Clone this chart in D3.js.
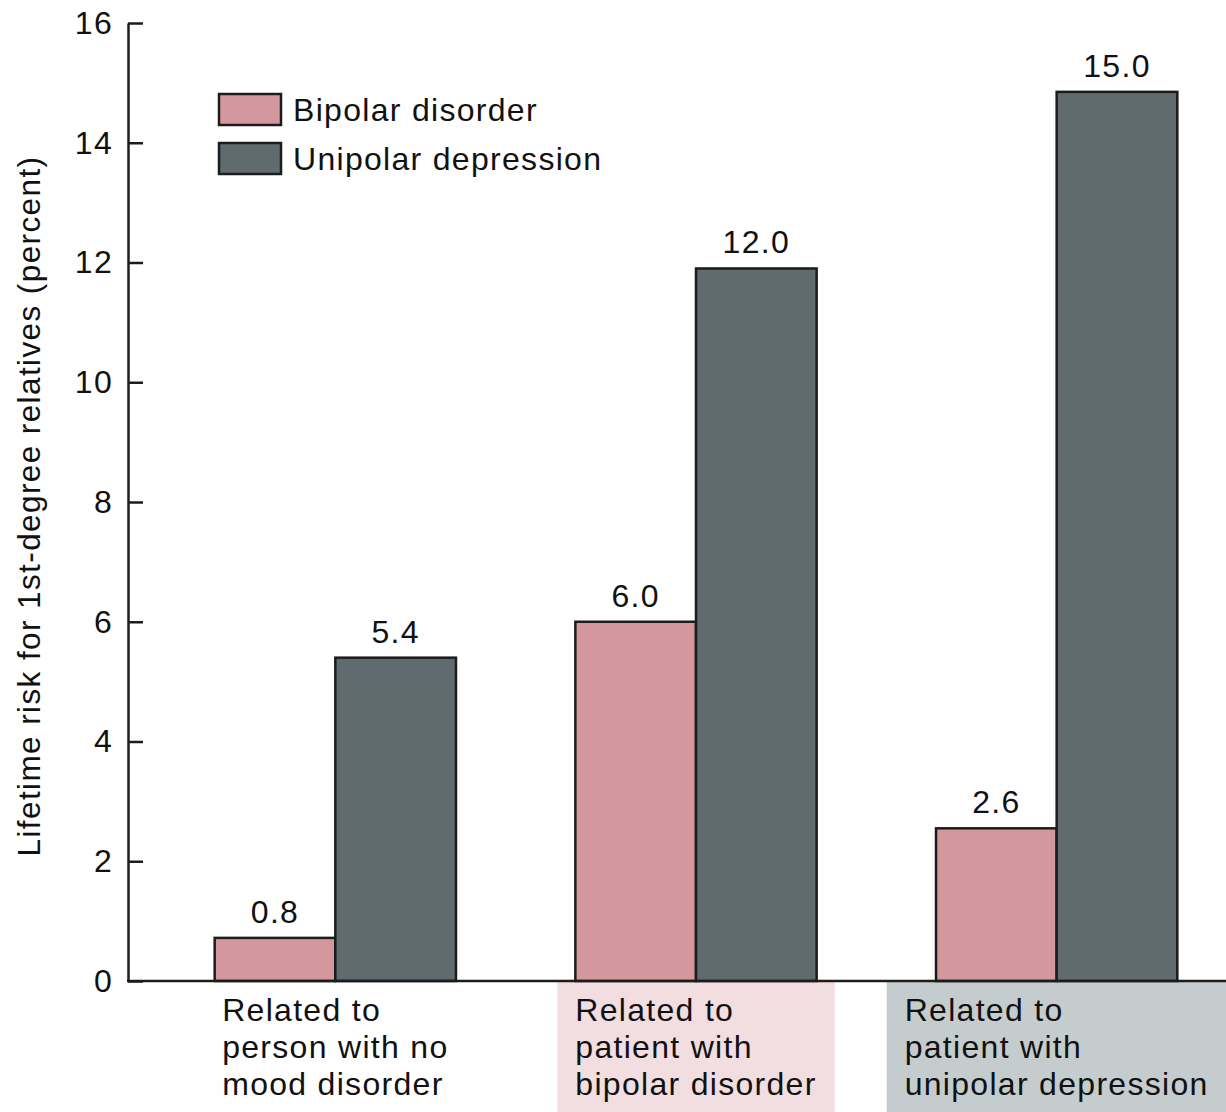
<!DOCTYPE html>
<html>
<head>
<meta charset="utf-8">
<script src="https://cdn.jsdelivr.net/npm/d3@7"></script>
<style>
  body { margin: 0; background: #fff; }
  svg text { font-family: "Liberation Sans", Arial, sans-serif; fill: #111; letter-spacing: 1.3px; }
</style>
</head>
<body>
<div id="chart"></div>
<script>
// categories (each label is a list of lines)
const groups = ["none", "bipolar", "unipolar"];
const groupLabels = [
  ["Related to", "person with no", "mood disorder"],
  ["Related to", "patient with", "bipolar disorder"],
  ["Related to", "patient with", "unipolar depression"]
];
const seriesNames = ["Bipolar disorder", "Unipolar depression"];
// drawn bar heights
const bipolarValues = [0.72, 6.0, 2.55];
const unipolarValues = [5.4, 11.9, 14.85];
// printed value labels
const bipolarLabels = ["0.8", "6.0", "2.6"];
const unipolarLabels = ["5.4", "12.0", "15.0"];
const yTicks = [0, 2, 4, 6, 8, 10, 12, 14, 16];

const seriesColors = ["#d4979d", "#5f6b6f"];
const labelBg = [null, "#f2dee1", "#c5cccd"];

const width = 1226, height = 1112;
const svg = d3.select("#chart").append("svg")
  .attr("width", width)
  .attr("height", height);

const y = d3.scaleLinear().domain([0, 16]).range([981, 23]);

const x = d3.scaleBand()
  .domain(groups)
  .range([155, 1237])
  .paddingInner(0.331)
  .paddingOuter(0.1655);

const xSub = d3.scaleBand()
  .domain([0, 1])
  .range([0, x.bandwidth()]);

const data = groups.map((g, i) => ({
  group: g,
  bars: [
    { s: 0, value: bipolarValues[i], label: bipolarLabels[i] },
    { s: 1, value: unipolarValues[i], label: unipolarLabels[i] }
  ]
}));

// category labels with background boxes
const labelLayer = svg.append("g");
groups.forEach((g, i) => {
  const gEl = labelLayer.append("g");
  const bg = gEl.append("rect");
  const txt = gEl.append("text")
    .attr("font-size", 32);
  groupLabels[i].forEach((line, k) => {
    txt.append("tspan")
      .attr("x", 0)
      .attr("y", 1021 + k * 37)
      .text(line);
  });
  const bb = txt.node().getBBox();
  const cx = x(g) + x.bandwidth() / 2;
  const left = cx - bb.width / 2;
  txt.attr("transform", `translate(${left},0)`);
  if (labelBg[i]) {
    bg.attr("x", left - 18)
      .attr("y", y(0))
      .attr("width", bb.width + 36)
      .attr("height", height - y(0))
      .attr("fill", labelBg[i]);
  } else {
    bg.remove();
  }
});

// bars
const groupSel = svg.append("g").selectAll(".group")
  .data(data)
  .join("g")
  .attr("class", "group")
  .attr("transform", d => `translate(${x(d.group)},0)`);

groupSel.selectAll("rect")
  .data(d => d.bars)
  .join("rect")
  .attr("x", d => xSub(d.s))
  .attr("y", d => y(d.value))
  .attr("width", xSub.bandwidth())
  .attr("height", d => y(0) - y(d.value))
  .attr("fill", d => seriesColors[d.s])
  .attr("stroke", "#1c1c1c")
  .attr("stroke-width", 2.5);

groupSel.selectAll(".val")
  .data(d => d.bars)
  .join("text")
  .attr("class", "val")
  .attr("x", d => xSub(d.s) + xSub.bandwidth() / 2)
  .attr("y", d => y(d.value) - 15)
  .attr("text-anchor", "middle")
  .attr("font-size", 32)
  .text(d => d.label);

// axes
const yAxis = svg.append("g")
  .attr("transform", "translate(128,0)")
  .call(d3.axisLeft(y).tickValues(yTicks).tickSizeInner(-15).tickSizeOuter(0).tickPadding(15));
yAxis.select(".domain").attr("stroke", "#1c1c1c").attr("stroke-width", 2.5);
yAxis.selectAll(".tick line").attr("stroke", "#1c1c1c").attr("stroke-width", 2.5);
yAxis.selectAll(".tick text")
  .attr("font-size", 32)
  .attr("font-family", null)
  .attr("fill", "#111");

svg.append("line")
  .attr("x1", 127)
  .attr("x2", width)
  .attr("y1", y(0))
  .attr("y2", y(0))
  .attr("stroke", "#1c1c1c")
  .attr("stroke-width", 2.5);

svg.append("text")
  .attr("transform", "translate(40,506) rotate(-90)")
  .attr("text-anchor", "middle")
  .attr("font-size", 31.5)
  .style("letter-spacing", "1.4px")
  .text("Lifetime risk for 1st-degree relatives (percent)");

// legend
const legend = svg.append("g").attr("transform", "translate(219,94)");
seriesNames.forEach((name, i) => {
  legend.append("rect")
    .attr("x", 0)
    .attr("y", i * 49)
    .attr("width", 62)
    .attr("height", 31)
    .attr("fill", seriesColors[i])
    .attr("stroke", "#1c1c1c")
    .attr("stroke-width", 2.5);
  legend.append("text")
    .attr("x", 74)
    .attr("y", i * 49 + 15.5)
    .attr("dy", "0.35em")
    .attr("font-size", 32)
    .text(name);
});
</script>
</body>
</html>
